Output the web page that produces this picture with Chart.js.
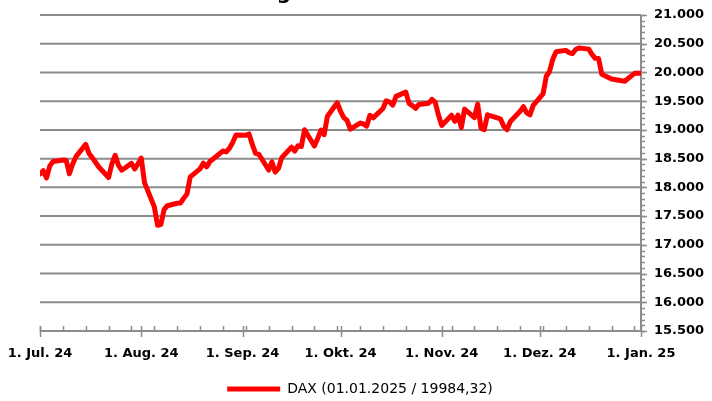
<!DOCTYPE html>
<html><head><meta charset="utf-8">
<script src="https://cdn.jsdelivr.net/npm/chart.js@4.4.1/dist/chart.umd.min.js"></script>
<style>
html,body{margin:0;padding:0;background:#fff;overflow:hidden}
canvas{display:block}
#title{position:absolute;left:0;top:-20px;width:291px;text-align:right;font:bold 20px "DejaVu Sans";color:#000;white-space:nowrap}
</style></head><body>
<canvas id="c" width="712" height="401"></canvas><div id="title">DAX-Entwicklung</div>
<script>
const dates=['2024-07-01','2024-07-02','2024-07-03','2024-07-04','2024-07-05','2024-07-08','2024-07-09','2024-07-10','2024-07-11','2024-07-12',
'2024-07-15','2024-07-16','2024-07-17','2024-07-18','2024-07-19','2024-07-22','2024-07-23','2024-07-24','2024-07-25','2024-07-26',
'2024-07-29','2024-07-30','2024-07-31','2024-08-01','2024-08-02','2024-08-05','2024-08-06','2024-08-07','2024-08-08','2024-08-09',
'2024-08-12','2024-08-13','2024-08-14','2024-08-15','2024-08-16','2024-08-19','2024-08-20','2024-08-21','2024-08-22','2024-08-23',
'2024-08-26','2024-08-27','2024-08-28','2024-08-29','2024-08-30','2024-09-02','2024-09-03','2024-09-04','2024-09-05','2024-09-06',
'2024-09-09','2024-09-10','2024-09-11','2024-09-12','2024-09-13','2024-09-16','2024-09-17','2024-09-18','2024-09-19','2024-09-20',
'2024-09-23','2024-09-24','2024-09-25','2024-09-26','2024-09-27','2024-09-30','2024-10-01','2024-10-02','2024-10-03','2024-10-04',
'2024-10-07','2024-10-08','2024-10-09','2024-10-10','2024-10-11','2024-10-14','2024-10-15','2024-10-16','2024-10-17','2024-10-18',
'2024-10-21','2024-10-22','2024-10-23','2024-10-24','2024-10-25','2024-10-28','2024-10-29','2024-10-30','2024-10-31','2024-11-01',
'2024-11-04','2024-11-05','2024-11-06','2024-11-07','2024-11-08','2024-11-11','2024-11-12','2024-11-13','2024-11-14','2024-11-15',
'2024-11-18','2024-11-19','2024-11-20','2024-11-21','2024-11-22','2024-11-25','2024-11-26','2024-11-27','2024-11-28','2024-11-29',
'2024-12-02','2024-12-03','2024-12-04','2024-12-05','2024-12-06','2024-12-09','2024-12-10','2024-12-11','2024-12-12','2024-12-13',
'2024-12-16','2024-12-17','2024-12-18','2024-12-19','2024-12-20','2024-12-23','2024-12-27','2024-12-30','2025-01-01'];
const values=[18235,18290,18164,18374,18450,18475,18472,18236,18407,18534,
18748,18590,18518,18437,18354,18171,18407,18558,18388,18299,
18418,18320,18411,18509,18083,17661,17339,17354,17615,17680,
17723,17726,17812,17885,18183,18322,18421,18357,18449,18493,
18633,18617,18681,18782,18912,18906,18930,18747,18591,18576,
18302,18443,18266,18330,18518,18699,18633,18726,18711,19002,
18720,18847,18997,18918,19238,19474,19325,19213,19165,19015,
19120,19105,19066,19254,19210,19373,19508,19486,19432,19583,
19657,19461,19422,19377,19443,19464,19531,19479,19258,19078,
19255,19148,19256,19039,19362,19215,19448,19034,19003,19263,
19211,19190,19061,19004,19146,19323,19406,19296,19262,19426,
19626,19934,20017,20232,20359,20384,20346,20329,20399,20427,
20406,20313,20246,20243,19969,19885,19848,19984,19984.32];
const tickDates=['2024-07-01','2024-08-01','2024-09-01','2024-10-01','2024-11-01','2024-12-01','2025-01-01'];
const tickLabels=['1. Jul. 24','1. Aug. 24','1. Sep. 24','1. Okt. 24','1. Nov. 24','1. Dez. 24','1. Jan. 25'];
const seriesLabel='DAX (01.01.2025 / 19984,32)';
const yMin=15500, yMax=21000, yMajorStep=500, yMinorStep=100;

const GRID='#8c8c8c';
const start=Date.UTC(2024,6,1);
const dayOf=s=>{const p=s.split('-').map(Number);return (Date.UTC(p[0],p[1]-1,p[2])-start)/864e5;};
const points=dates.map((d,i)=>({x:dayOf(d),y:values[i]}));
const majorX=tickDates.map(dayOf);
const xMin=majorX[0], xMax=majorX[majorX.length-1];
const minorX=[];for(let d=0;d<=xMax;d+=7)minorX.push(d);
const majorY=[];for(let v=yMin;v<=yMax;v+=yMajorStep)majorY.push(v);
const minorY=[];for(let v=yMin;v<=yMax;v+=yMinorStep)minorY.push(v);
const fmt=v=>String(v).replace(/\B(?=(\d{3})+(?!\d))/g,'.');

/* gridlines as datasets built from the tick values, drawn beneath the DAX line */
const gridSets=majorY.map(v=>({label:'grid',data:[{x:xMin,y:v},{x:xMax,y:v}],borderColor:GRID,borderWidth:2,
  pointRadius:0,order:5,clip:3}));
gridSets.push({label:'axis',data:[{x:xMax,y:yMin},{x:xMax,y:yMax}],borderColor:GRID,borderWidth:2,pointRadius:0,order:5,clip:false});

function seg(ctx,x1,y1,x2,y2){ctx.beginPath();ctx.moveTo(x1,y1);ctx.lineTo(x2,y2);ctx.stroke();}
const ticksPlugin={id:'axisTicks',
  afterDraw(chart){
    const xs=chart.scales.x,ys=chart.scales.y,ctx=chart.ctx,a=chart.chartArea;
    ctx.save();ctx.strokeStyle=GRID;ctx.lineWidth=1.5;
    majorX.forEach(v=>{const px=Math.round(xs.getPixelForValue(v))+0.5;seg(ctx,px,a.bottom-5,px,a.bottom+6);});
    minorX.forEach(v=>{const px=Math.round(xs.getPixelForValue(v))+0.5;seg(ctx,px,a.bottom,px,a.bottom-5);});
    const rx=xs.getPixelForValue(xMax);
    minorY.forEach(v=>{const py=Math.round(ys.getPixelForValue(v))+0.5;seg(ctx,rx,py,rx+4,py);});
    majorY.forEach(v=>{const py=Math.round(ys.getPixelForValue(v))+0.5;seg(ctx,rx,py,rx+6,py);});
    ctx.restore();}};

new Chart(document.getElementById('c'),{
  type:'line',
  data:{datasets:[{label:seriesLabel,data:points,borderColor:'#ff0000',backgroundColor:'#ff0000',
    borderWidth:5,pointRadius:0,tension:0,borderJoinStyle:'round',borderCapStyle:'round',order:0}].concat(gridSets)},
  options:{responsive:false,animation:false,devicePixelRatio:1,
    layout:{padding:{left:8,top:15,right:0,bottom:-5}},
    scales:{
      x:{type:'linear',min:xMin,max:xMax,
        afterBuildTicks:s=>{s.ticks=majorX.map(v=>({value:v}));},
        afterFit:s=>{s.height=50;s.paddingLeft=40;},
        ticks:{autoSkip:false,maxRotation:0,padding:15,color:'#000',
          font:{family:'DejaVu Sans',weight:'bold',size:13},
          callback:(v,i)=>tickLabels[i]},
        grid:{display:false,drawTicks:false},
        border:{display:false}},
      y:{position:'right',min:yMin,max:yMax,
        ticks:{stepSize:yMajorStep,autoSkip:false,padding:13,color:'#000',
          font:{family:'DejaVu Sans',weight:'bold',size:13},
          callback:v=>fmt(v)},
        afterFit:s=>{s.width=71;s.paddingTop=0;s.paddingBottom=0;},
        grid:{display:false,drawTicks:false},
        border:{display:false}}
    },
    plugins:{
      title:{display:false},
      tooltip:{enabled:false},
      legend:{position:'bottom',labels:{boxWidth:53,boxHeight:5,
        generateLabels:ch=>[ch.data.datasets[0]].map(d=>({text:d.label,fillStyle:d.borderColor,strokeStyle:d.borderColor,
          lineWidth:0,hidden:false,datasetIndex:0,fontColor:'#000'})),
        color:'#000',padding:1,font:{family:'DejaVu Sans',size:14}}}
    }},
  plugins:[ticksPlugin]
});
</script></body></html>
